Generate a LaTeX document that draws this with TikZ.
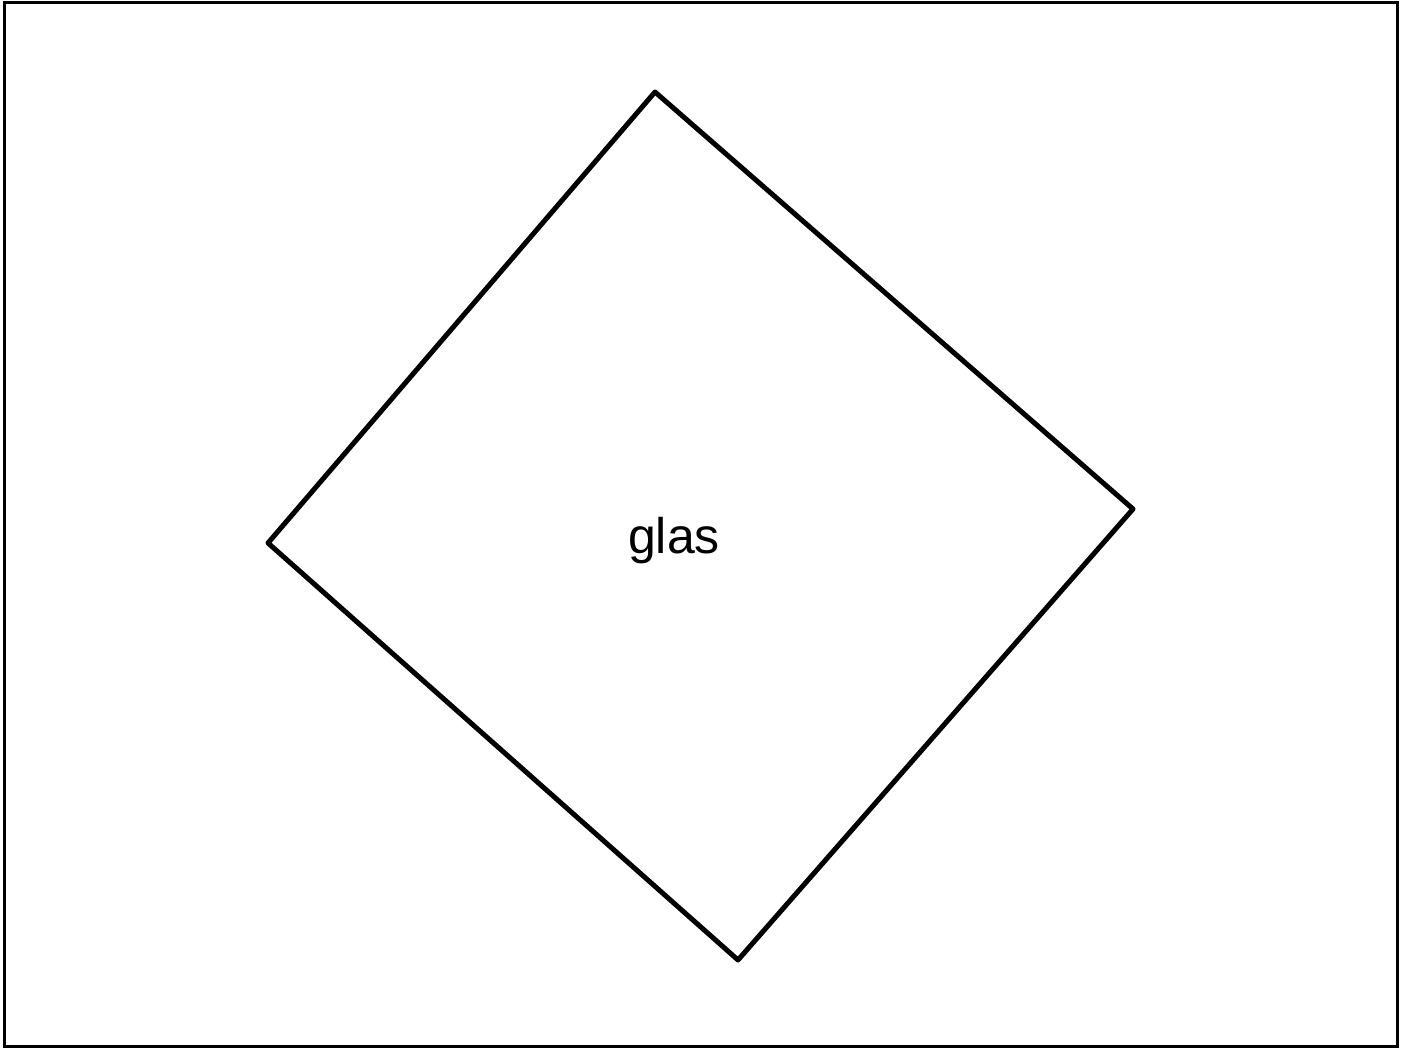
\documentclass[tikz,border=0pt]{standalone}
\usepackage{fontspec}
\setmainfont{Liberation Sans}
\begin{document}
\begin{tikzpicture}[x=0.5pt,y=-0.5pt,
  frame/.style={draw=black,line width=1.5pt},
  shapeline/.style={draw=black,line width=2.5pt,line join=round},
  label/.style={font=\fontsize{25}{30}\selectfont,inner sep=0pt}]
\useasboundingbox (0,0) rectangle (1408,1048);
\fill[white] (0,0) rectangle (1408,1048);
\draw[frame] (4,3) rectangle (1397,1046);
\coordinate (t) at (655,92);
\coordinate (r) at (1133,509);
\coordinate (b) at (738,960);
\coordinate (l) at (268,543);
\draw[shapeline] (t) -- (r) -- (b) -- (l) -- cycle;
\node[label] (glas) at (674,541) {glas};
\end{tikzpicture}
\end{document}
